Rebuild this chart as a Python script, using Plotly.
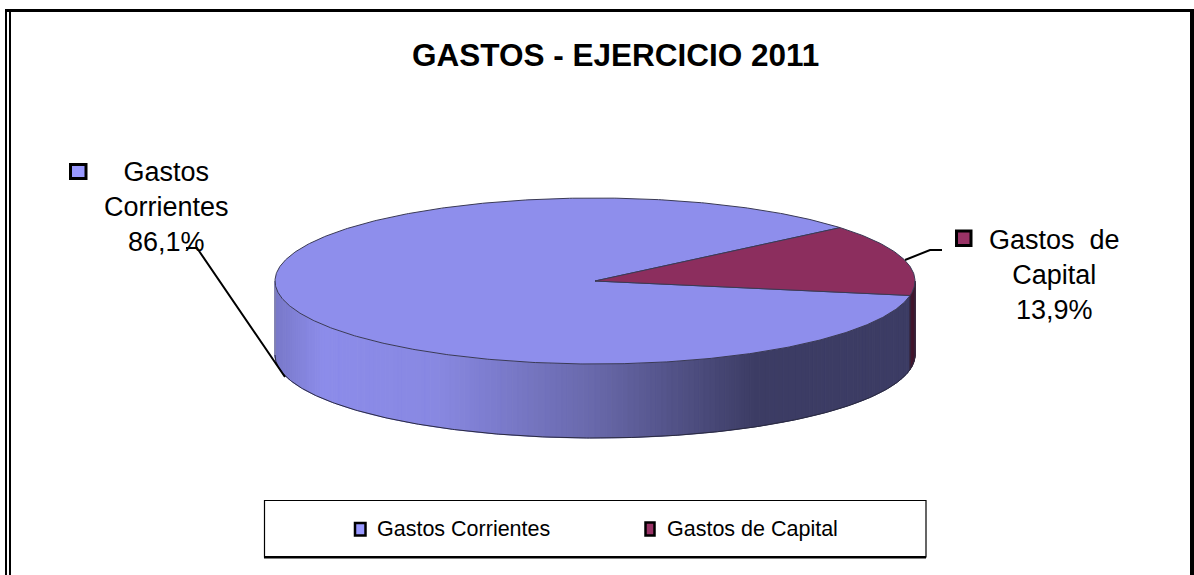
import math
import plotly.graph_objects as go

# ---- data ----
TITLE = "GASTOS - EJERCICIO 2011"
categories = ["Gastos Corrientes", "Gastos de Capital"]
shares = [86.1, 13.9]
callouts = ["Gastos<br>Corrientes<br>86,1%", "Gastos&nbsp;&nbsp;de<br>Capital<br>13,9%"]

W, H = 1194, 575
CX, CY, RX, RY, DEPTH = 595, 281, 320, 83, 74
TOP_COLORS = ["#8E8EEC", "#8C2E5E"]
SWATCH = ["#9999FF", "#993366"]
FONT = "Liberation Sans"
CAPITAL_START = 40.0  # degrees, counter-clockwise from 3 o'clock

px = lambda x: x / W
py = lambda y: 1 - y / H


def mix(stops, u):
    for (u0, c0), (u1, c1) in zip(stops, stops[1:]):
        if u <= u1:
            f = (u - u0) / (u1 - u0)
            rgb = [round(c0[i] + (c1[i] - c0[i]) * f) for i in range(3)]
            return "rgb({},{},{})".format(*rgb)
    return "rgb({},{},{})".format(*stops[-1][1])


WALL_STOPS = [(-1.0, (120, 120, 200)), (-0.85, (140, 140, 234)), (-0.5, (136, 136, 226)),
              (0.0, (104, 104, 170)), (0.5, (60, 60, 100)), (1.0, (60, 60, 100))]

fig = go.Figure()


def arc(a0, a1):
    n = max(2, int(abs(a1 - a0) * 2))
    return [math.radians(a0 + (a1 - a0) * i / n) for i in range(n + 1)]


capital_sweep = shares[1] / sum(shares) * 360
capital_end = CAPITAL_START - capital_sweep  # clockwise
d = DEPTH / RY

# side wall: strips of the front half of the disc
for deg in range(180, 360):
    t0, t1 = math.radians(deg), math.radians(deg + 1)
    u = math.cos((t0 + t1) / 2)
    col = mix(WALL_STOPS, u)
    if deg >= 360 + capital_end:
        col = "rgb(66,22,46)"
    xs = [math.cos(t0), math.cos(t1), math.cos(t1), math.cos(t0), math.cos(t0)]
    ys = [math.sin(t0), math.sin(t1), math.sin(t1) - d, math.sin(t0) - d, math.sin(t0)]
    fig.add_trace(go.Scatter(x=xs, y=ys, mode="lines", fill="toself", fillcolor=col,
                             line=dict(color=col, width=1), hoverinfo="skip", showlegend=False))

# wall outline
front = arc(180, 360)
fig.add_trace(go.Scatter(x=[math.cos(t) for t in front], y=[math.sin(t) - d for t in front],
                         mode="lines", line=dict(color="#2a2a40", width=1),
                         hoverinfo="skip", showlegend=False))
for sx, c in ((-1, "#8a8a9c"), (1, "#2a2a40")):
    fig.add_trace(go.Scatter(x=[sx, sx], y=[0, -d], mode="lines", line=dict(color=c, width=1),
                             hoverinfo="skip", showlegend=False))
# seam between the two slices on the wall
seam = math.radians(capital_end)
fig.add_trace(go.Scatter(x=[math.cos(seam)] * 2, y=[math.sin(seam), math.sin(seam) - d], mode="lines",
                         line=dict(color="#2a2a40", width=1), hoverinfo="skip", showlegend=False))

# top face: one wedge per category
spans = [(CAPITAL_START, CAPITAL_START + shares[0] / sum(shares) * 360), (CAPITAL_START, capital_end)]
for name, share, col, (a0, a1) in zip(categories, shares, TOP_COLORS, spans):
    ts = arc(a0, a1)
    xs = [0] + [math.cos(t) for t in ts] + [0]
    ys = [0] + [math.sin(t) for t in ts] + [0]
    fig.add_trace(go.Scatter(x=xs, y=ys, mode="lines", fill="toself", fillcolor=col,
                             line=dict(color="#3a3a55", width=1), name=name,
                             text=f"{name}: {share}", hoverinfo="text", showlegend=False))

shapes = []


def rect(x0, y0, x1, y1, line_w=0, line_c="black", fill=None):
    shapes.append(dict(type="rect", xref="paper", yref="paper", x0=px(x0), x1=px(x1), y0=py(y0), y1=py(y1),
                       line=dict(color=line_c, width=line_w), fillcolor=fill))


def poly(points, w=2):
    path = "M " + " L ".join(f"{px(a)},{py(b)}" for a, b in points)
    shapes.append(dict(type="path", xref="paper", yref="paper", path=path, line=dict(color="black", width=w)))


# outer double frame
rect(5, 9, 7, 575, fill="black")
rect(9, 9, 11, 575, fill="black")
rect(5, 9, 1194, 12, fill="black")
rect(1190, 9, 1194, 575, fill="black")
# legend box
rect(264.5, 500.5, 926, 557, line_w=1.2, fill="white")
rect(264, 556, 926, 558.5, fill="black")
# leader lines
poly([(186, 248), (197, 248), (285, 377)])
poly([(905, 260), (930, 250), (942, 250)])
# call-out swatches
rect(70.5, 164.5, 86, 178.5, line_w=3, fill=SWATCH[0])
rect(956.5, 231, 971, 245.5, line_w=3, fill=SWATCH[1])
# legend swatches
rect(355, 523, 365.5, 535.5, line_w=2.5, fill=SWATCH[0])
rect(645.5, 522.5, 654.5, 535.5, line_w=2.5, fill=SWATCH[1])


def note(x, y, text, size, bold=False, anchor="center", yanchor="middle"):
    return dict(xref="paper", yref="paper", x=px(x), y=py(y), text=f"<b>{text}</b>" if bold else text,
                showarrow=False, xanchor=anchor, yanchor=yanchor, align="center",
                font=dict(family=FONT, size=size, color="black"))


annotations = [
    note(615, 55, TITLE, 31.5, bold=True),
    note(166.5, 207, callouts[0], 27),
    note(1054.5, 275.5, callouts[1], 27),
    note(375, 529, categories[0], 21.5, anchor="left"),
    note(665, 529, categories[1], 21.5, anchor="left"),
]

fig.update_layout(
    width=W, height=H, margin=dict(l=0, r=0, t=0, b=0),
    paper_bgcolor="white", plot_bgcolor="white", showlegend=False,
    xaxis=dict(range=[(0 - CX) / RX, (W - CX) / RX], visible=False, fixedrange=True),
    yaxis=dict(range=[(CY - H) / RY, CY / RY], visible=False, fixedrange=True),
    shapes=shapes, annotations=annotations,
)
fig.write_html("out.html", config={"displayModeBar": False},
               post_script="document.body.style.margin='0';document.body.style.overflow='hidden';")
